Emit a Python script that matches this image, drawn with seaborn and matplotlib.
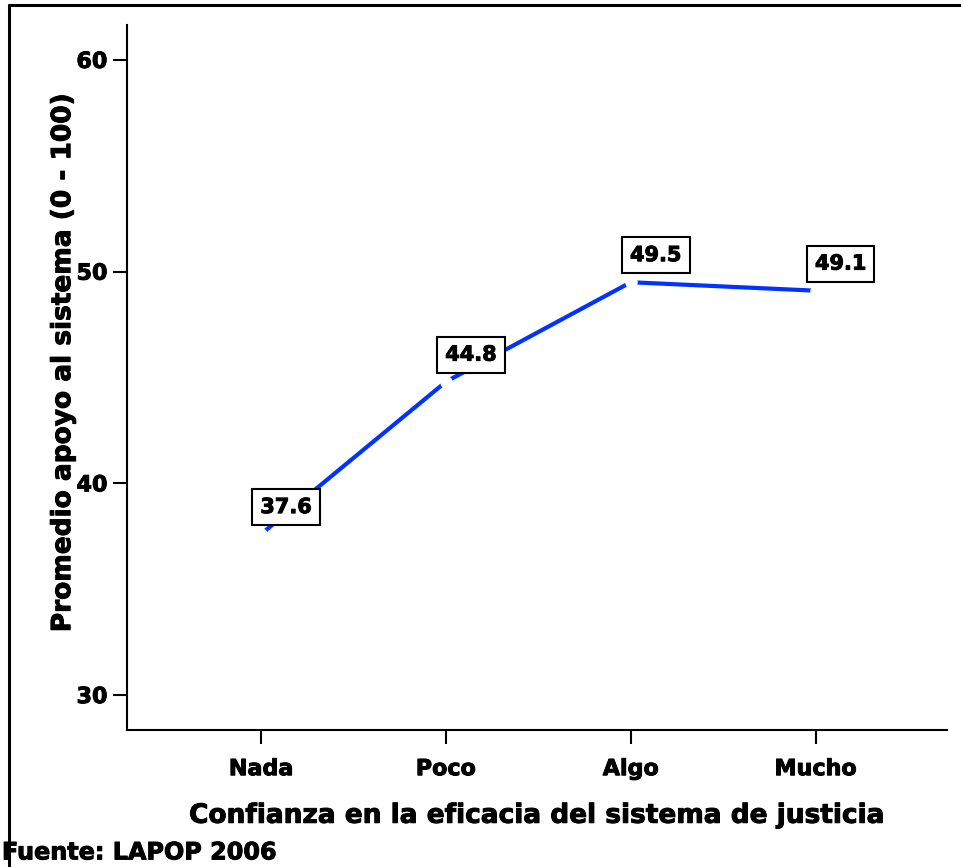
import matplotlib
matplotlib.use("Agg")
import matplotlib.pyplot as plt
from matplotlib.lines import Line2D
import matplotlib.patheffects as pe
import seaborn as sns
import pandas as pd

categorias = ["Nada", "Poco", "Algo", "Mucho"]
promedios = [37.6, 44.8, 49.5, 49.1]
etiquetas = ["37.6", "44.8", "49.5", "49.1"]
yticks = [30, 40, 50, 60]

sns.set_style("white")
plt.rcParams["font.family"] = ["DejaVu Sans"]
plt.rcParams["font.weight"] = "bold"
plt.rcParams["text.color"] = "black"
plt.rcParams["axes.labelcolor"] = "black"
plt.rcParams["xtick.color"] = "black"
plt.rcParams["ytick.color"] = "black"

heavy = [pe.withStroke(linewidth=0.7, foreground="black")]

df = pd.DataFrame({"cat": categorias, "val": promedios})

fig = plt.figure(figsize=(9.61, 8.67), dpi=100)
ax = fig.add_axes([127/961, 1-730/867, (947-127)/961, (730-25)/867])

sns.lineplot(data=df, x="cat", y="val", sort=False, ax=ax, color="#0033FF",
             linewidth=3, marker="o", markersize=9, markerfacecolor="white",
             markeredgecolor="white", markeredgewidth=0)

for i, (v, t) in enumerate(zip(promedios, etiquetas)):
    ax.annotate(t, xy=(i, v), xytext=(18, 19.5), textcoords="offset points",
                ha="center", va="center", fontsize=15, fontweight="bold",
                color="black", path_effects=heavy,
                bbox=dict(boxstyle="square,pad=0.38", fc="white", ec="black", lw=1.5),
                zorder=5)

ax.set_xlim(-0.725, 3.71)
ax.set_ylim(28.35, 61.65)
ax.set_yticks(yticks)
ax.set_yticklabels([str(t) for t in yticks], fontsize=16, fontweight="bold")
ax.set_xticks(range(len(categorias)))
ax.set_xticklabels(categorias, fontsize=16, fontweight="bold")
for lab in ax.get_xticklabels() + ax.get_yticklabels():
    lab.set_path_effects(heavy)

for s in ["top", "right"]:
    ax.spines[s].set_visible(False)
for s in ["left", "bottom"]:
    ax.spines[s].set_linewidth(1.5)
    ax.spines[s].set_color("black")

ax.tick_params(axis="both", which="major", direction="out", length=10, width=1.5,
               color="black", left=True, bottom=True)
ax.tick_params(axis="y", pad=4)
ax.tick_params(axis="x", pad=11)

ax.set_xlabel("Confianza en la eficacia del sistema de justicia", fontsize=19,
              fontweight="bold", labelpad=17, path_effects=heavy)
ax.set_ylabel("Promedio apoyo al sistema (0 - 100)", fontsize=19,
              fontweight="bold", path_effects=heavy)
ax.yaxis.set_label_coords(-0.062, 0.521)

fig.add_artist(Line2D([9/961, 9/961], [0, 1-4.5/867], transform=fig.transFigure,
                      color="black", lw=2.2))
fig.add_artist(Line2D([9/961, 1], [1-4.5/867, 1-4.5/867], transform=fig.transFigure,
                      color="black", lw=2.2))

fig.text(0.002, 0.003, "Fuente: LAPOP 2006", fontsize=17.2, fontweight="bold",
         ha="left", va="bottom", path_effects=heavy)

fig.savefig("out.png", dpi=100)
